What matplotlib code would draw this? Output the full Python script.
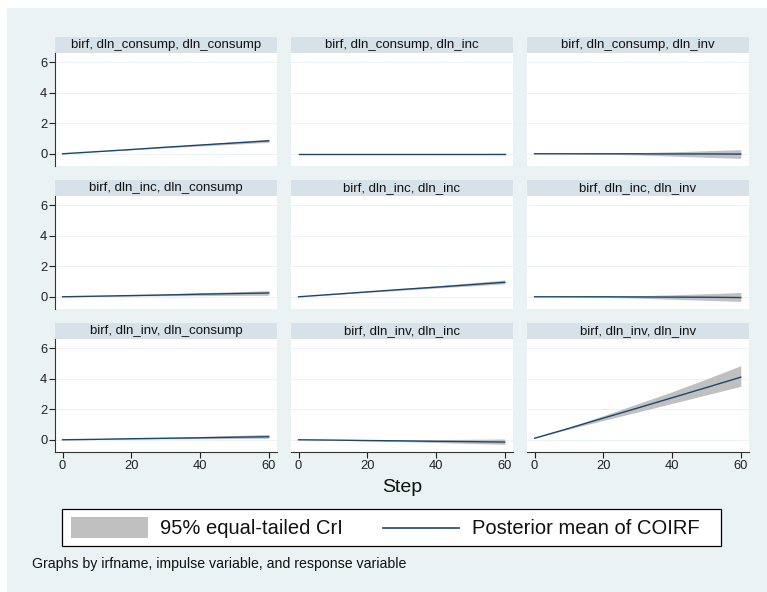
import numpy as np
import matplotlib
matplotlib.use("Agg")
import matplotlib.pyplot as plt
from matplotlib.patches import Rectangle
from matplotlib.lines import Line2D

plt.rcParams['font.family'] = ['Liberation Sans', 'DejaVu Sans']

steps = [0, 10, 20, 30, 40, 50, 60]
names = ["dln_consump", "dln_inc", "dln_inv"]

# posterior mean of COIRF, rows = impulse, cols = response
mean = {
    ("dln_consump", "dln_consump"): [0.0, 0.14, 0.28, 0.43, 0.57, 0.71, 0.85],
    ("dln_consump", "dln_inc"):     [0.0, 0.0, 0.0, 0.0, 0.0, 0.0, 0.0],
    ("dln_consump", "dln_inv"):     [0.0, 0.0, 0.0, 0.0, -0.01, -0.01, -0.02],
    ("dln_inc", "dln_consump"):     [0.0, 0.04, 0.08, 0.12, 0.17, 0.21, 0.25],
    ("dln_inc", "dln_inc"):         [0.0, 0.16, 0.32, 0.48, 0.63, 0.79, 0.95],
    ("dln_inc", "dln_inv"):         [0.0, 0.0, 0.0, -0.01, -0.02, -0.03, -0.05],
    ("dln_inv", "dln_consump"):     [0.0, 0.03, 0.07, 0.1, 0.13, 0.17, 0.2],
    ("dln_inv", "dln_inc"):         [0.0, -0.02, -0.05, -0.07, -0.1, -0.12, -0.15],
    ("dln_inv", "dln_inv"):         [0.1, 0.75, 1.42, 2.08, 2.75, 3.42, 4.1],
}
lower = {
    ("dln_consump", "dln_consump"): [0.0, 0.13, 0.26, 0.39, 0.51, 0.63, 0.75],
    ("dln_consump", "dln_inc"):     [0.0, 0.0, -0.01, -0.01, -0.02, -0.02, -0.03],
    ("dln_consump", "dln_inv"):     [0.0, -0.01, -0.03, -0.08, -0.15, -0.23, -0.3],
    ("dln_inc", "dln_consump"):     [0.0, 0.03, 0.05, 0.07, 0.08, 0.09, 0.1],
    ("dln_inc", "dln_inc"):         [0.0, 0.14, 0.29, 0.43, 0.57, 0.71, 0.85],
    ("dln_inc", "dln_inv"):         [0.0, -0.01, -0.04, -0.09, -0.16, -0.23, -0.3],
    ("dln_inv", "dln_consump"):     [0.0, 0.02, 0.04, 0.06, 0.07, 0.08, 0.1],
    ("dln_inv", "dln_inc"):         [0.0, -0.03, -0.07, -0.12, -0.18, -0.24, -0.3],
    ("dln_inv", "dln_inv"):         [0.1, 0.7, 1.27, 1.82, 2.38, 2.94, 3.5],
}
upper = {
    ("dln_consump", "dln_consump"): [0.0, 0.16, 0.31, 0.47, 0.63, 0.79, 0.95],
    ("dln_consump", "dln_inc"):     [0.0, 0.0, 0.01, 0.01, 0.02, 0.02, 0.03],
    ("dln_consump", "dln_inv"):     [0.0, 0.01, 0.03, 0.07, 0.13, 0.2, 0.27],
    ("dln_inc", "dln_consump"):     [0.0, 0.06, 0.12, 0.19, 0.26, 0.33, 0.4],
    ("dln_inc", "dln_inc"):         [0.0, 0.18, 0.36, 0.54, 0.72, 0.91, 1.1],
    ("dln_inc", "dln_inv"):         [0.0, 0.01, 0.03, 0.07, 0.13, 0.2, 0.28],
    ("dln_inv", "dln_consump"):     [0.0, 0.05, 0.1, 0.16, 0.22, 0.28, 0.35],
    ("dln_inv", "dln_inc"):         [0.0, -0.01, -0.01, -0.01, 0.01, 0.03, 0.05],
    ("dln_inv", "dln_inv"):         [0.1, 0.82, 1.58, 2.36, 3.14, 3.98, 4.85],
}

W, H = 767, 592
bg = "#EAF2F3"
strip = "#D6E2E7"
navy = "#1A476F"
band = "#C0C0C0"

fig = plt.figure(figsize=(W / 100, H / 100), dpi=100, facecolor="white")
fig.patches.append(Rectangle((7 / W, 0), 1, 1 - 8 / H, transform=fig.transFigure,
                             facecolor=bg, edgecolor="none", zorder=-10))

col_x = [55, 291, 527]
row_y = [37, 180, 323]
pw, strip_h, plot_h = 222, 16, 113

def fx(px):
    return px / W

def fy(py):
    return 1 - py / H

for i, imp in enumerate(names):
    for j, resp in enumerate(names):
        x0, y0 = col_x[j], row_y[i]
        # strip title
        sax = fig.add_axes([fx(x0), fy(y0 + strip_h), pw / W, strip_h / H])
        sax.set_facecolor(strip)
        sax.set_xticks([]); sax.set_yticks([])
        for s in sax.spines.values():
            s.set_visible(False)
        sax.text(0.5, 0.5, f"birf, {imp}, {resp}", ha="center", va="center",
                 fontsize=9.5, color="#111111", transform=sax.transAxes)

        ax = fig.add_axes([fx(x0), fy(y0 + strip_h + plot_h), pw / W, plot_h / H])
        key = (imp, resp)
        ax.fill_between(steps, lower[key], upper[key], color=band, linewidth=0, zorder=2)
        ax.plot(steps, mean[key], color=navy, linewidth=1.0, zorder=3)
        ax.set_xlim(-2.2, 62.4)
        ax.set_ylim(-0.8, 6.6)
        ax.set_yticks([0, 2, 4, 6])
        ax.set_xticks([0, 20, 40, 60])
        ax.grid(axis="y", color=bg, linewidth=0.8, zorder=0)
        ax.set_axisbelow(True)
        for s in ax.spines.values():
            s.set_visible(False)
        ax.tick_params(labelsize=9.3, colors="#222222", length=4, width=0.8)
        if j == 0:
            ax.spines["left"].set_visible(True)
            ax.spines["left"].set_linewidth(0.8)
            ax.spines["left"].set_color("#333333")
            ax.tick_params(axis="y", left=True, labelleft=True, pad=1.5)
        else:
            ax.tick_params(axis="y", left=False, labelleft=False)
        if i == 2:
            ax.spines["bottom"].set_visible(True)
            ax.spines["bottom"].set_linewidth(0.8)
            ax.spines["bottom"].set_color("#333333")
            ax.tick_params(axis="x", bottom=True, labelbottom=True, pad=1.5)
        else:
            ax.tick_params(axis="x", bottom=False, labelbottom=False)

fig.text(fx(402), fy(488), "Step", ha="center", va="center", fontsize=14, color="#111111")

# legend box
fig.patches.append(Rectangle((fx(62), fy(546)), (721 - 62) / W, (546 - 509) / H,
                             transform=fig.transFigure, facecolor="white",
                             edgecolor="black", linewidth=0.9, zorder=5))
fig.patches.append(Rectangle((fx(71), fy(538)), (148 - 71) / W, (538 - 517) / H,
                             transform=fig.transFigure, facecolor=band,
                             edgecolor="none", zorder=6))
fig.text(fx(160), fy(528), "95% equal-tailed CrI", ha="left", va="center",
         fontsize=14.5, color="#111111", zorder=7)
fig.lines.append(Line2D([fx(383), fx(459)], [fy(528), fy(528)], transform=fig.transFigure,
                        color=navy, linewidth=1.2, zorder=7))
fig.text(fx(472), fy(528), "Posterior mean of COIRF", ha="left", va="center",
         fontsize=14.5, color="#111111", zorder=7)

fig.text(fx(32), fy(564), "Graphs by irfname, impulse variable, and response variable",
         ha="left", va="center", fontsize=10.2, color="#111111")

fig.savefig("out.png", dpi=100, facecolor="white")
